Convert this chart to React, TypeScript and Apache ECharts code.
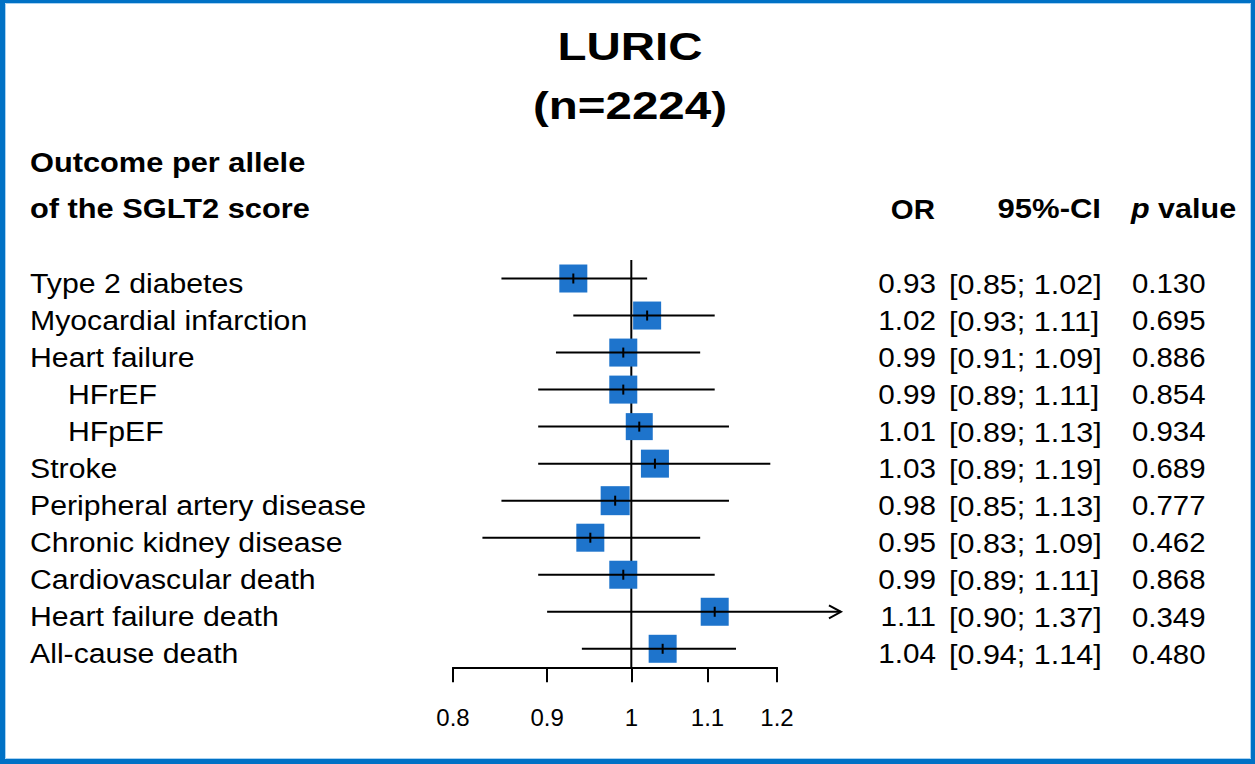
import React, { useEffect, useRef } from "react";
import * as echarts from "echarts";

const FONT = '"Liberation Sans", Arial, Helvetica, sans-serif';

const outcomes = [
  "Type 2 diabetes",
  "Myocardial infarction",
  "Heart failure",
  "HFrEF",
  "HFpEF",
  "Stroke",
  "Peripheral artery disease",
  "Chronic kidney disease",
  "Cardiovascular death",
  "Heart failure death",
  "All-cause death",
];
const indented = [false, false, false, true, true, false, false, false, false, false, false];
const orValues = [0.93, 1.02, 0.99, 0.99, 1.01, 1.03, 0.98, 0.95, 0.99, 1.11, 1.04];
const ciLower = [0.85, 0.93, 0.91, 0.89, 0.89, 0.89, 0.85, 0.83, 0.89, 0.9, 0.94];
const ciUpper = [1.02, 1.11, 1.09, 1.11, 1.13, 1.19, 1.13, 1.09, 1.11, 1.37, 1.14];
const pValues = ["0.130", "0.695", "0.886", "0.854", "0.934", "0.689", "0.777", "0.462", "0.868", "0.349", "0.480"];
const boxSizes = [28, 28, 28, 28, 27, 28, 29, 28, 28, 28, 28];
const tickValues = [0.8, 0.9, 1, 1.1, 1.2];
const arrowLimit = 1.3;

const BLUE = "#1E74CC";
const BORDER = "#0071C5";

function txt(text: string, x: number, y: number, opts: any = {}) {
  const align = opts.align || "left";
  return {
    type: "text",
    x,
    y,
    scaleX: opts.scaleX || 1,
    style: {
      text,
      x: 0,
      y: 0,
      fill: "#000",
      fontSize: opts.fontSize || 27,
      fontWeight: opts.fontWeight || "normal",
      fontFamily: FONT,
      align,
      textAlign: align,
      verticalAlign: "middle",
      textVerticalAlign: "middle",
      rich: opts.rich,
    },
  };
}

export default function App() {
  const ref = useRef<HTMLDivElement>(null);

  useEffect(() => {
    if (!ref.current) return;
    const chart = echarts.init(ref.current, null, { renderer: "svg" });

    const data = orValues.map((v, i) => [Math.log(v), i]);

    const renderItem = (params: any, api: any) => {
      const i = api.value(1);
      const c = api.coord([api.value(0), i]);
      const cx = c[0];
      const cy = c[1];
      const s = boxSizes[i];
      const loX = api.coord([Math.log(ciLower[i]), i])[0];
      const clipped = ciUpper[i] > arrowLimit;
      const hiX = api.coord([Math.log(clipped ? arrowLimit : ciUpper[i]), i])[0];
      const children: any[] = [
        {
          type: "rect",
          shape: { x: cx - s / 2, y: cy - s / 2, width: s, height: s },
          style: { fill: BLUE },
        },
        {
          type: "line",
          shape: { x1: loX, y1: cy, x2: hiX, y2: cy },
          style: { stroke: "#000", lineWidth: 2 },
        },
        {
          type: "line",
          shape: { x1: cx, y1: cy - 5, x2: cx, y2: cy + 5 },
          style: { stroke: "#000", lineWidth: 2 },
        },
      ];
      if (clipped) {
        children.push({
          type: "polyline",
          shape: {
            points: [
              [hiX - 12, cy - 6.5],
              [hiX, cy],
              [hiX - 12, cy + 6.5],
            ],
          },
          style: { stroke: "#000", lineWidth: 2, fill: "none" },
        });
      }
      const ty = cy + 5;
      children.push(txt(outcomes[i], indented[i] ? 68 : 30, ty, { fontSize: 27, scaleX: 1.12 }));
      children.push(txt(orValues[i].toFixed(2), 936, ty, { fontSize: 28, scaleX: 1.06, align: "right" }));
      children.push(
        txt("[" + ciLower[i].toFixed(2) + "; " + ciUpper[i].toFixed(2) + "]", 949, ty, {
          fontSize: 28,
          scaleX: 1.09,
        })
      );
      children.push(txt(pValues[i], 1132, ty, { fontSize: 28, scaleX: 1.05 }));
      return { type: "group", children };
    };

    const option: any = {
      animation: false,
      backgroundColor: "#fff",
      grid: {
        left: 453,
        right: 478,
        top: 260,
        bottom: 96.7,
        containLabel: false,
        outerBoundsMode: "none",
      },
      xAxis: {
        type: "value",
        min: Math.log(tickValues[0]),
        max: Math.log(tickValues[tickValues.length - 1]),
        axisLine: { show: true, onZero: false, lineStyle: { color: "#000", width: 2 } },
        axisTick: {
          show: true,
          inside: false,
          length: 15,
          customValues: tickValues.map((t) => Math.log(t)),
          lineStyle: { color: "#000", width: 2 },
        },
        axisLabel: {
          show: true,
          customValues: tickValues.map((t) => Math.log(t)),
          formatter: (v: number) => String(parseFloat(Math.exp(v).toFixed(2))),
          fontSize: 24,
          fontFamily: FONT,
          color: "#000",
          margin: 38,
        },
        splitLine: { show: false },
      },
      yAxis: {
        type: "value",
        inverse: true,
        min: -0.5,
        max: 10.5,
        show: false,
        splitLine: { show: false },
      },
      graphic: [
        { type: "rect", shape: { x: 0, y: 0, width: 1255, height: 3 }, style: { fill: BORDER } },
        { type: "rect", shape: { x: 0, y: 0, width: 5, height: 764 }, style: { fill: BORDER } },
        { type: "rect", shape: { x: 1251, y: 0, width: 4, height: 764 }, style: { fill: BORDER } },
        { type: "rect", shape: { x: 0, y: 759, width: 1255, height: 5 }, style: { fill: BORDER } },
        {
          type: "rect",
          shape: { x: 5.5, y: 3.5, width: 1245, height: 755 },
          style: { fill: "none", stroke: "#A9D2F2", lineWidth: 1 },
        },
        txt("LURIC", 630, 47, { fontSize: 38, fontWeight: "bold", scaleX: 1.25, align: "center" }),
        txt("(n=2224)", 630, 106, { fontSize: 38, fontWeight: "bold", scaleX: 1.25, align: "center" }),
        txt("Outcome per allele", 30, 163, { fontSize: 27, fontWeight: "bold", scaleX: 1.14 }),
        txt("of the SGLT2 score", 30, 209, { fontSize: 27, fontWeight: "bold", scaleX: 1.14 }),
        txt("OR", 935, 209, { fontSize: 27, fontWeight: "bold", scaleX: 1.09, align: "right" }),
        txt("95%-CI", 1101, 209, { fontSize: 27, fontWeight: "bold", scaleX: 1.15, align: "right" }),
        txt("{i|p} value", 1131, 209, {
          fontSize: 27,
          fontWeight: "bold",
          scaleX: 1.13,
          rich: {
            i: { fontStyle: "italic", fontWeight: "bold", fontSize: 27, fontFamily: FONT, fill: "#000" },
          },
        }),
      ],
      series: [
        {
          type: "line",
          data: [
            [0, -0.5],
            [0, 10.5],
          ],
          symbol: "none",
          silent: true,
          z: 1,
          lineStyle: { color: "#000", width: 2 },
        },
        {
          type: "custom",
          data,
          encode: { x: 0, y: 1 },
          renderItem,
          clip: false,
          silent: true,
          z: 2,
        },
      ],
    };

    chart.setOption(option);
    return () => chart.dispose();
  }, []);

  return (
    <div
      ref={ref}
      style={{ position: "fixed", left: 0, top: 0, width: 1255, height: 764, background: "#fff" }}
    />
  );
}
